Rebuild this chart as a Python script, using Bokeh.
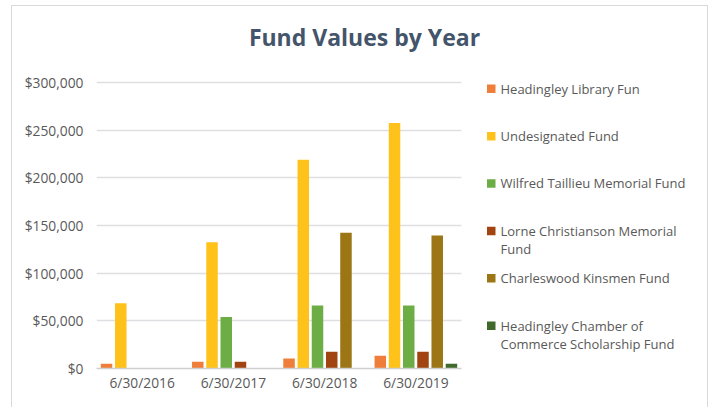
from bokeh.plotting import figure
from bokeh.models import Range1d, FixedTicker, NumeralTickFormatter, Label, BoxAnnotation, ColumnDataSource
from bokeh.embed import file_html
from bokeh.resources import INLINE

# ---- data ----
years = ["6/30/2016", "6/30/2017", "6/30/2018", "6/30/2019"]
series_names = [
    "Headingley Library Fun",
    "Undesignated Fund",
    "Wilfred Taillieu Memorial Fund",
    "Lorne Christianson Memorial\nFund",
    "Charleswood Kinsmen Fund",
    "Headingley Chamber of\nCommerce Scholarship Fund",
]
library = [5000, 7000, 10500, 13500]
undesignated = [68500, 132500, 219000, 257500]
wilfred = [0, 54000, 66000, 66000]
lorne = [0, 7000, 17500, 17500]
charleswood = [0, 0, 142500, 139500]
chamber = [0, 0, 0, 5000]
y_ticks = [0, 50000, 100000, 150000, 200000, 250000, 300000]
title_text = "Fund Values by Year"

series_values = [library, undesignated, wilfred, lorne, charleswood, chamber]
colors = ["#EF7E3A", "#FFC21A", "#6DAD45", "#A2440F", "#9C7614", "#406A2B"]

FONT = "Open Sans"
TXT = "#595959"

# ---- layout constants (pixels) ----
W, H = 697, 403
ML, MB = 84, 41
frame_w = W - ML
frame_h = H - MB
plot_w = 365          # width occupied by the category area
plot_h = 286          # height from $0 to the top tick
cat_px = plot_w / len(years)

idx = list(range(len(years)))
y_max = y_ticks[-1]

p = figure(width=W, height=H,
           x_range=Range1d(-0.5, -0.5 + frame_w / cat_px),
           y_range=Range1d(0, y_max * frame_h / plot_h),
           output_backend="svg", toolbar_location=None,
           min_border_left=ML, min_border_right=0, min_border_top=0, min_border_bottom=MB)
p.outline_line_color = None
p.background_fill_color = "white"
p.border_fill_color = "white"

pitch = 0.156
bw = 0.126
for i, (vals, c) in enumerate(zip(series_values, colors)):
    off = (i - 2.5) * pitch
    src = ColumnDataSource(dict(x=[k + off for k in idx], top=vals))
    p.vbar(x="x", top="top", width=bw, source=src, fill_color=c, line_color=None)

p.xgrid.grid_line_color = None
p.ygrid.ticker = FixedTicker(ticks=y_ticks)
p.ygrid.grid_line_color = "#DEDFE2"
p.ygrid.grid_line_width = 1.3
p.ygrid.cross_bounds = (-0.5, len(years) - 0.5)

p.yaxis.ticker = FixedTicker(ticks=y_ticks)
p.yaxis.formatter = NumeralTickFormatter(format="$0,0")
p.xaxis.ticker = FixedTicker(ticks=idx)
p.xaxis.major_label_overrides = {k: y for k, y in zip(idx, years)}
p.xaxis.bounds = (-0.5, len(years) - 0.5)
for ax in (p.xaxis[0], p.yaxis[0]):
    ax.major_tick_line_color = None
    ax.minor_tick_line_color = None
    ax.major_tick_out = 0
    ax.major_tick_in = 0
    ax.major_label_text_font = FONT
    ax.major_label_text_font_size = "13.8px"
    ax.major_label_text_color = TXT
p.yaxis.axis_line_color = None
p.yaxis.major_label_standoff = 13
p.xaxis.axis_line_color = "#D0D0D0"
p.xaxis.axis_line_width = 1.3
p.xaxis.major_label_standoff = 4

# Title
p.add_layout(Label(x=268, y=332, x_units="screen", y_units="screen", text=title_text,
                   text_font=FONT, text_font_size="23px", text_font_style="bold",
                   text_color="#44546A", text_align="center", text_baseline="middle"))

# Legend (Excel-like)
first_line_y = 280
step = 47.4
line_h = 18.6
for i, (name, c) in enumerate(zip(series_names, colors)):
    yy = first_line_y - i * step
    p.add_layout(BoxAnnotation(left=390.5, right=399, bottom=yy - 4.5, top=yy + 4,
                               left_units="screen", right_units="screen",
                               bottom_units="screen", top_units="screen",
                               fill_color=c, fill_alpha=1, line_color=None))
    for j, line in enumerate(name.split("\n")):
        p.add_layout(Label(x=404, y=yy - j * line_h, x_units="screen", y_units="screen", text=line,
                           text_font=FONT, text_font_size="13px", text_color=TXT,
                           text_align="left", text_baseline="middle"))

p.styles = {"border": "1px solid #D9D9D9", "margin-left": "11px", "margin-top": "5px"}

open("out.html", "w").write(file_html(p, INLINE))
